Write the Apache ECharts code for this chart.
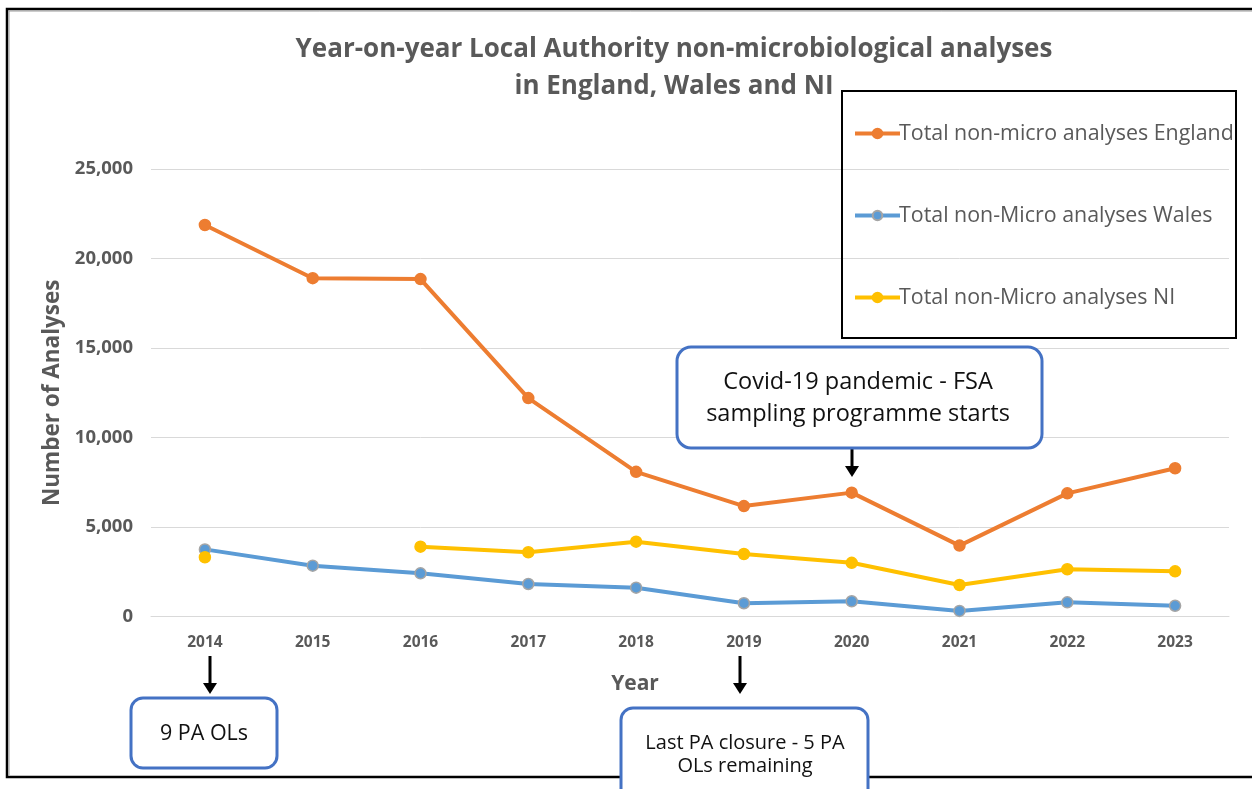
<!DOCTYPE html>
<html>
<head>
<meta charset="utf-8">
<script src="https://cdn.jsdelivr.net/npm/echarts@6/dist/echarts.min.js"></script>
<style>html,body{margin:0;padding:0;background:#fff;}#c{width:1252px;height:789px;}</style>
</head>
<body>
<div id="c"></div>
<script>
const years = ['2014','2015','2016','2017','2018','2019','2020','2021','2022','2023'];
const england = [21870, 18900, 18850, 12200, 8080, 6170, 6920, 3960, 6880, 8280];
const wales = [3750, 2840, 2410, 1815, 1610, 740, 850, 310, 790, 600];
const ni = [3310, null, 3900, 3590, 4180, 3490, 3000, 1760, 2640, 2525];
const seriesNames = ['Total non-micro analyses England','Total non-Micro analyses Wales','Total non-Micro analyses NI'];
const titleLines = ['Year-on-year Local Authority non-microbiological analyses','in England, Wales and NI'];

const FONT = '"Open Sans", Lato, sans-serif';
const GREY = '#595959';
const chart = echarts.init(document.getElementById('c'), null, {renderer:'canvas'});

function lineSeries(name, data, color, border){
  return {
    name, type:'line', data, connectNulls:false, showSymbol:true,
    symbol:'circle', symbolSize:11, smooth:false,
    lineStyle:{color, width:4},
    itemStyle:{color, borderColor:border||color, borderWidth:1.5},
    emphasis:{disabled:true}, z:3
  };
}

function arrow(x, y1, y2){
  return {type:'group', children:[
    {type:'line', shape:{x1:x,y1:y1,x2:x,y2:y2-9}, style:{stroke:'#000', lineWidth:3}},
    {type:'polygon', shape:{points:[[x-7,y2-11],[x+7,y2-11],[x,y2]]}, style:{fill:'#000'}}
  ]};
}

chart.setOption({
  backgroundColor:'#fff',
  animation:false,
  title:{
    text: titleLines.join('\n'),
    left: 674, top: 31, textAlign:'center', padding:0,
    textStyle:{fontFamily:FONT, fontWeight:'bold', fontSize:26, color:GREY, lineHeight:37}
  },
  legend:{
    orient:'vertical', left:848, top:118,
    itemWidth:45, itemHeight:12, itemGap:61,
    data: seriesNames,
    lineStyle:{width:4},
    textStyle:{fontFamily:FONT, fontSize:21.4, color:GREY, lineHeight:20, padding:[0,0,0,-6]}
  },
  grid:{left:151, right:23, top:169, bottom:172.5},
  xAxis:{
    type:'category', data:years, boundaryGap:true,
    axisLine:{show:true, lineStyle:{color:'#D9D9D9', width:1}},
    axisTick:{show:false},
    axisLabel:{fontFamily:FONT, fontWeight:'bold', fontSize:15.5, color:GREY, margin:18},
    name:'Year', nameLocation:'middle', nameGap:57,
    nameTextStyle:{fontFamily:FONT, fontWeight:'bold', fontSize:21, color:GREY, padding:[0,110,0,0]}
  },
  yAxis:{
    type:'value', min:0, max:25000, interval:5000,
    axisLine:{show:false}, axisTick:{show:false},
    splitLine:{lineStyle:{color:'#D9D9D9', width:1}},
    axisLabel:{fontFamily:FONT, fontWeight:'bold', fontSize:18.5, color:GREY, margin:18,
      formatter:v=>v.toLocaleString('en-US')},
    name:'Number of Analyses', nameLocation:'middle', nameGap:77,
    nameTextStyle:{fontFamily:FONT, fontWeight:'bold', fontSize:22.5, color:GREY}
  },
  series:[
    lineSeries(seriesNames[0], england, '#ED7D31'),
    lineSeries(seriesNames[1], wales, '#5B9BD5', '#A5A5A5'),
    lineSeries(seriesNames[2], ni, '#FFC000')
  ],
  graphic:[
    {type:'polyline', shape:{points:[[1252,9],[7,9],[7,777],[1252,777]]}, style:{stroke:'#000', lineWidth:2.5, fill:null}, z:10},
    {type:'polyline', shape:{points:[[1252,11],[9,11],[9,775]]}, style:{stroke:'#9a9a9a', lineWidth:1, fill:null}, z:10},
    {type:'rect', shape:{x:842, y:91, width:394, height:247}, style:{stroke:'#000', lineWidth:2, fill:null}, z:10},
    {type:'rect', shape:{x:677, y:347, width:365, height:101, r:14}, style:{stroke:'#4472C4', lineWidth:3, fill:'#fff'}, z:20},
    {type:'text', x:858, y:398, style:{text:'Covid-19 pandemic - FSA\nsampling programme starts', fontFamily:FONT, fontSize:23.5, lineHeight:32, fill:'#111', align:'center', verticalAlign:'middle'}, z:21},
    arrow(852, 449, 477),
    {type:'rect', shape:{x:131, y:698, width:146, height:70, r:12}, style:{stroke:'#4472C4', lineWidth:3, fill:'#fff'}, z:20},
    {type:'text', x:204, y:734, style:{text:'9 PA OLs', fontFamily:FONT, fontSize:21.5, fill:'#111', align:'center', verticalAlign:'middle'}, z:21},
    arrow(210, 656, 694),
    {type:'rect', shape:{x:621, y:708, width:247, height:100, r:12}, style:{stroke:'#4472C4', lineWidth:3, fill:'#fff'}, z:20},
    {type:'text', x:745, y:755, style:{text:'Last PA closure - 5 PA\nOLs remaining', fontFamily:FONT, fontSize:20, lineHeight:23, fill:'#111', align:'center', verticalAlign:'middle'}, z:21},
    arrow(740, 656, 694)
  ]
});
</script>
</body>
</html>
